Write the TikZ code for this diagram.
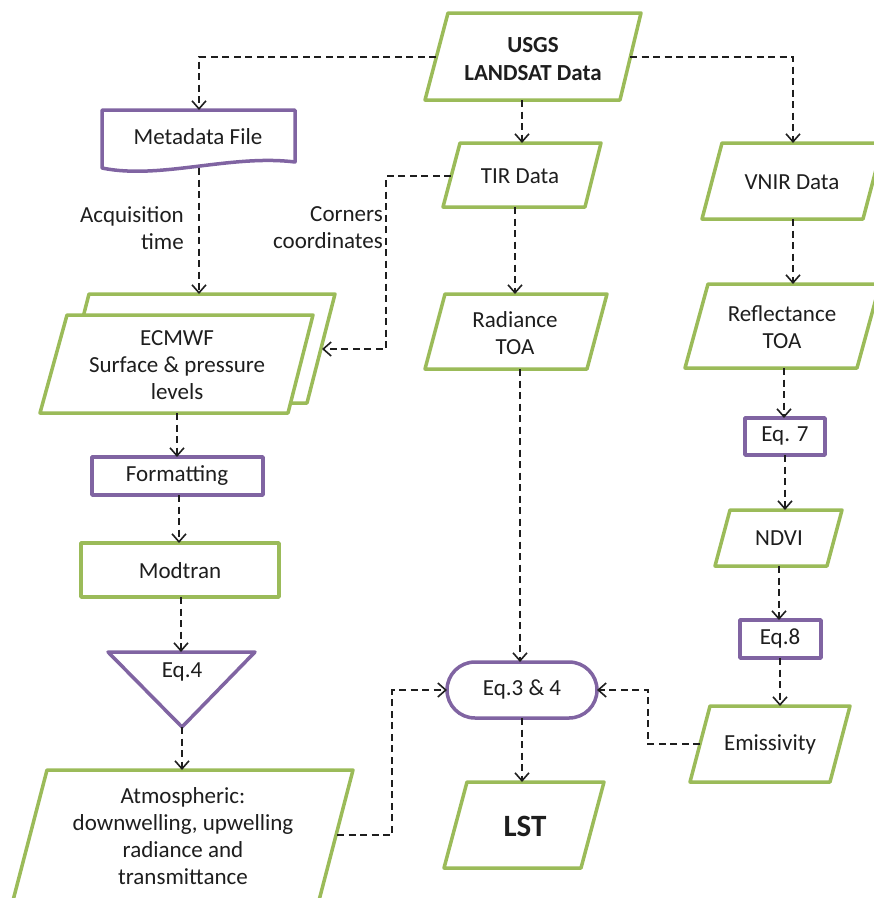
\documentclass[tikz,border=0pt]{standalone}
\usepackage{fontspec}
\setmainfont{Carlito}
\usetikzlibrary{arrows.meta}
\definecolor{gr}{HTML}{9BBB59}
\definecolor{pu}{HTML}{8064A2}
\definecolor{tx}{HTML}{1E1E1E}
\begin{document}
\begin{tikzpicture}[x=1pt,y=-1pt,
 gbox/.style={draw=gr,line width=3.5pt,fill=white,line join=round},
 pbox/.style={draw=pu,line width=3.5pt,fill=white,line join=round},
 lbl/.style={text=tx,font=\fontsize{23}{27}\selectfont,align=center,inner sep=0pt},
 blbl/.style={lbl,font=\fontsize{23}{28}\selectfont\bfseries},
 conn/.style={draw=tx,line width=1.6pt,dash pattern=on 7pt off 4.5pt,-{Straight Barb[length=8pt,width=14pt]}},
]
\useasboundingbox (0,0) rectangle (874,898);
\clip (0,0) rectangle (874,898);

% ---------- shapes ----------
% USGS
\draw[gbox] (448,13) -- (641,13) -- (620,100) -- (425,100) -- cycle;
\node[blbl] (usgs) at (533,59) {USGS\\LANDSAT Data};
% Metadata file
\draw[pbox] (102,110) -- (295,110) -- (295,162) .. controls (230,154) and (160,180) .. (102,168) -- cycle;
\node[lbl] (meta) at (198,137) {Metadata File};
% TIR
\draw[gbox] (460,143) -- (601,143) -- (585,207) -- (443,207) -- cycle;
\node[lbl] (tir) at (520,176) {TIR Data};
% VNIR
\draw[gbox] (722,143) -- (883,143) -- (863,219) -- (702,219) -- cycle;
\node[lbl] (vnir) at (792,182) {VNIR Data};
% labels
\node[lbl,align=right,anchor=east] (acq) at (184,228) {Acquisition\\time};
\node[lbl,align=right,anchor=east] (corn) at (383,228) {Corners\\coordinates};
% ECMWF (two sheets)
\draw[gbox] (89,294) -- (335,294) -- (307,403) -- (61,403) -- cycle;
\draw[gbox] (67,315) -- (313,315) -- (288,413) -- (40,413) -- cycle;
\node[lbl] (ecmwf) at (177,365) {ECMWF\\Surface \& pressure\\levels};
% Formatting
\draw[pbox] (92,457) rectangle (263,495);
\node[lbl] (fmt) at (177,476) {Formatting};
% Modtran
\draw[gbox] (81,543) rectangle (279,597);
\node[lbl] (mod) at (180,571) {Modtran};
% Eq.4 triangle
\draw[pbox] (108,652) -- (255,652) -- (182,727) -- cycle;
\node[lbl] (eqfour) at (182,672) {Eq.4};
% Atmospheric
\draw[gbox] (47,770) -- (353,770) -- (310,935) -- (4,935) -- cycle;
\node[lbl] (atm) at (183,836) {Atmospheric:\\downwelling, upwelling\\radiance and\\transmittance};
% Radiance
\draw[gbox] (445,294) -- (607,294) -- (587,369) -- (425,369) -- cycle;
\node[lbl] (rad) at (515,333) {Radiance\\TOA};
% Reflectance
\draw[gbox] (708,284) -- (880,284) -- (857,368) -- (685,368) -- cycle;
\node[lbl] (refl) at (782,327) {Reflectance\\TOA};
% Eq. 7
\draw[pbox] (745,418) rectangle (825,455);
\node[lbl] (eqseven) at (785,436) {Eq. 7};
% NDVI
\draw[gbox] (730,510) -- (842,510) -- (827,566) -- (715,566) -- cycle;
\node[lbl] (ndvi) at (779,538) {NDVI};
% Eq.8
\draw[pbox] (740,620) rectangle (821,658);
\node[lbl] (eqeight) at (780,638) {Eq.8};
% Eq.3 & 4
\draw[pbox,rounded corners=28pt] (447,662) rectangle (597,718);
\node[lbl] (eqtf) at (522,689) {Eq.3 \& 4};
% LST
\draw[gbox] (467,782) -- (604,782) -- (581,868) -- (444,868) -- cycle;
\node[lbl,font=\fontsize{31}{36}\selectfont\bfseries] (lst) at (525,826) {LST};
% Emissivity
\draw[gbox] (710,706) -- (850,706) -- (830,782) -- (690,782) -- cycle;
\node[lbl] (emis) at (770,744) {Emissivity};

% ---------- connector anchors ----------
\coordinate (usgsW) at (436,57);
\coordinate (usgsE) at (630,57);
\coordinate (usgsS) at (522,100);
\coordinate (metaN) at (199,110);
\coordinate (metaS) at (199,168);
\coordinate (tirN) at (522,143);
\coordinate (tirW) at (451,176);
\coordinate (tirK) at (386,176);
\coordinate (tirS) at (515,207);
\coordinate (vnirN) at (793,143);
\coordinate (vnirS) at (793,219);
\coordinate (ecmN) at (199,294);
\coordinate (ecmE) at (322,349);
\coordinate (ecmS) at (177,413);
\coordinate (fmtN) at (177,457);
\coordinate (fmtS) at (179,495);
\coordinate (modN) at (179,543);
\coordinate (modS) at (181,597);
\coordinate (eqfN) at (181,652);
\coordinate (eqfS) at (182,727);
\coordinate (atmN) at (182,770);
\coordinate (atmE) at (337,835);
\coordinate (atmK) at (392,835);
\coordinate (radN) at (515,294);
\coordinate (radS) at (520,369);
\coordinate (eqtN) at (520,662);
\coordinate (eqtW) at (447,690);
\coordinate (eqtE) at (597,690);
\coordinate (eqtS) at (522,718);
\coordinate (lstN) at (522,782);
\coordinate (reflN) at (793,284);
\coordinate (reflS) at (784,368);
\coordinate (e7N) at (784,418);
\coordinate (e7S) at (785,455);
\coordinate (ndviN) at (785,510);
\coordinate (ndviS) at (779,566);
\coordinate (e8N) at (779,620);
\coordinate (e8S) at (780,658);
\coordinate (emN) at (780,706);
\coordinate (emW) at (700,744);
\coordinate (emK) at (648,744);

% ---------- connectors ----------
\draw[conn] (usgsW) -| (metaN);
\draw[conn] (usgsS) -- (tirN);
\draw[conn] (usgsE) -| (vnirN);
\draw[conn] (metaS) -- (ecmN);
\draw[conn] (tirW) -- (tirK) |- (ecmE);
\draw[conn] (tirS) -- (radN);
\draw[conn] (ecmS) -- (fmtN);
\draw[conn] (fmtS) -- (modN);
\draw[conn] (modS) -- (eqfN);
\draw[conn] (eqfS) -- (atmN);
\draw[conn] (atmE) -- (atmK) |- (eqtW);
\draw[conn] (radS) -- (eqtN);
\draw[conn] (eqtS) -- (lstN);
\draw[conn] (vnirS) -- (reflN);
\draw[conn] (reflS) -- (e7N);
\draw[conn] (e7S) -- (ndviN);
\draw[conn] (ndviS) -- (e8N);
\draw[conn] (e8S) -- (emN);
\draw[conn] (emW) -- (emK) |- (eqtE);
\end{tikzpicture}
\end{document}
